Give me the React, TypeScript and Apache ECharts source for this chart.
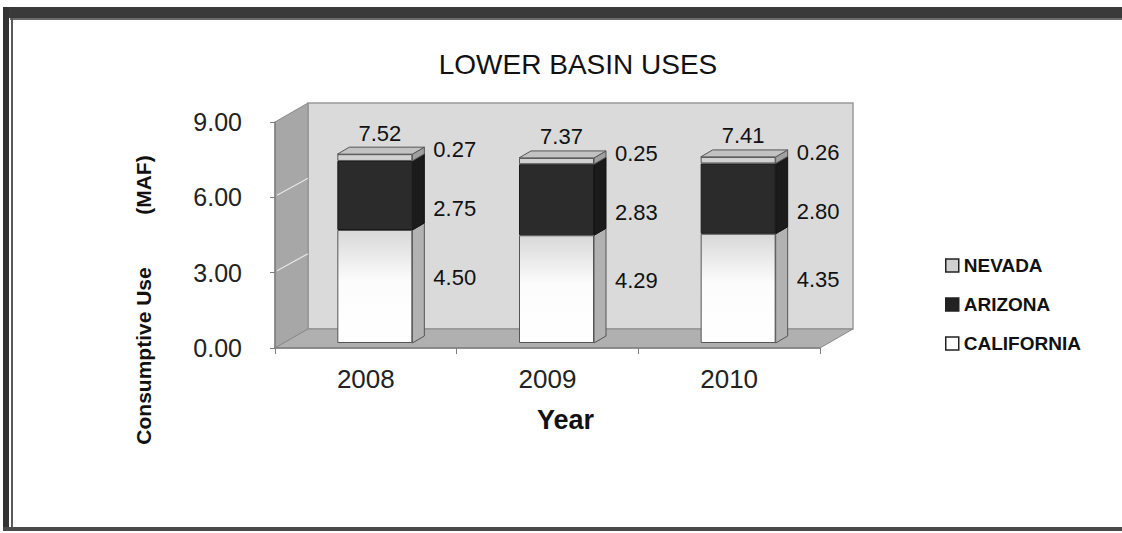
import React, { useEffect, useRef } from "react";
import * as echarts from "echarts";

const categories = ["2008", "2009", "2010"];
const california = [4.5, 4.29, 4.35];
const arizona = [2.75, 2.83, 2.8];
const nevada = [0.27, 0.25, 0.26];
const totals = [7.52, 7.37, 7.41];
const seriesNames = ["CALIFORNIA", "ARIZONA", "NEVADA"];
const legendOrder = ["NEVADA", "ARIZONA", "CALIFORNIA"];
const yMin = 0;
const yMax = 9;
const yInterval = 3;

const FONT = '"Liberation Sans", Arial, sans-serif';
const BAR_W = 75;
const SIDE_DX = 12;
const SIDE_DY = -7;
const WALL_DX = 33;
const WALL_DY = -19;

const frontColors = [
  new echarts.graphic.LinearGradient(0, 0, 0, 1, [
    { offset: 0, color: "#d8d8d8" },
    { offset: 0.45, color: "#fcfcfc" },
    { offset: 1, color: "#ffffff" },
  ]),
  "#2b2b2b",
  "#d2d2d2",
];
const sideColors = ["#b2b2b2", "#1b1b1b", "#a0a0a0"];
const legendColors: Record<string, string> = {
  NEVADA: "#d0d0d0",
  ARIZONA: "#222222",
  CALIFORNIA: "#ffffff",
};
const labelOffsets = [[0, -9], [0, 13], [0, -8]];

export default function App() {
  const ref = useRef<HTMLDivElement>(null);

  useEffect(() => {
    if (!ref.current) return;
    const chart = echarts.init(ref.current, null, { renderer: "svg" });
    const stacks = [california, arizona, nevada];

    const segData: number[][] = [];
    categories.forEach((_, i) => {
      let lo = 0;
      stacks.forEach((arr, s) => {
        const hi = lo + arr[i];
        segData.push([i, lo, hi, s]);
        lo = hi;
      });
    });

    const barSeries = stacks.map((arr, s) => ({
      name: seriesNames[s],
      type: "bar",
      stack: "lb",
      xAxisIndex: 1,
      yAxisIndex: 1,
      barWidth: BAR_W,
      z: 3,
      data: arr,
      itemStyle: {
        color: frontColors[s],
        borderColor: s === 1 ? "#1a1a1a" : "#555555",
        borderWidth: 1,
      },
      label: {
        show: true,
        position: "right",
        distance: 21,
        offset: labelOffsets[s],
        fontSize: 22,
        fontFamily: FONT,
        color: "#111111",
        formatter: (p: any) => Number(p.value).toFixed(2),
      },
      emphasis: { disabled: true },
    }));

    const option: any = {
      animation: false,
      backgroundColor: "#ffffff",
      title: {
        text: "LOWER BASIN USES",
        left: 573,
        textAlign: "center",
        top: 45,
        textStyle: { fontSize: 28, fontWeight: "normal", color: "#111111", fontFamily: FONT },
      },
      legend: {
        orient: "vertical",
        left: 940,
        top: 251,
        itemGap: 20,
        itemWidth: 13,
        itemHeight: 13,
        icon: "rect",
        selectedMode: false,
        data: legendOrder.map((n) => ({
          name: n,
          itemStyle: { color: legendColors[n], borderColor: "#222222", borderWidth: 1.5 },
        })),
        textStyle: { fontSize: 19, fontWeight: "bold", color: "#111111", fontFamily: FONT },
      },
      grid: [
        { left: 275, top: 122, width: 545, height: 226, containLabel: false },
        { left: 284, top: 117, width: 545, height: 226, containLabel: false },
      ],
      xAxis: [
        {
          type: "category",
          gridIndex: 0,
          data: categories,
          z: 2,
          axisLine: { show: true, lineStyle: { color: "#7f7f7f", width: 1.5 } },
          axisTick: { show: true, length: 6, lineStyle: { color: "#7f7f7f" } },
          axisLabel: { fontSize: 26, margin: 18, color: "#222222", fontFamily: FONT },
          name: "Year",
          nameLocation: "middle",
          nameGap: 58,
          nameTextStyle: {
            fontSize: 27,
            fontWeight: "bold",
            color: "#111111",
            fontFamily: FONT,
            padding: [0, 0, 0, 36],
          },
        },
        { type: "category", gridIndex: 1, data: categories, show: false },
      ],
      yAxis: [
        {
          type: "value",
          gridIndex: 0,
          min: yMin,
          max: yMax,
          interval: yInterval,
          z: 2,
          axisLine: { show: true, lineStyle: { color: "#7f7f7f", width: 1.5 } },
          axisTick: { show: true, length: 5, lineStyle: { color: "#7f7f7f" } },
          splitLine: { show: false },
          axisLabel: {
            fontSize: 25,
            margin: 33,
            color: "#222222",
            fontFamily: FONT,
            formatter: (v: number) => v.toFixed(2),
          },
        },
        { type: "value", gridIndex: 1, min: yMin, max: yMax, interval: yInterval, show: false },
      ],
      graphic: [
        { type: "rect", shape: { x: 3, y: 7, width: 1119, height: 11 }, style: { fill: "#3a3a3a" }, silent: true },
        { type: "rect", shape: { x: 10, y: 18, width: 1112, height: 2 }, style: { fill: "#6a6a6a" }, silent: true },
        { type: "rect", shape: { x: 3, y: 7, width: 6, height: 524 }, style: { fill: "#333333" }, silent: true },
        { type: "rect", shape: { x: 11, y: 18, width: 2, height: 511 }, style: { fill: "#5a5a5a" }, silent: true },
        { type: "rect", shape: { x: 3, y: 527, width: 1119, height: 4 }, style: { fill: "#4a4a4a" }, silent: true },
        {
          type: "text",
          x: 143,
          y: 300,
          rotation: Math.PI / 2,
          silent: true,
          style: {
            text: "Consumptive Use         (MAF)",
            fontSize: 21,
            fontWeight: "bold",
            fontFamily: FONT,
            fill: "#111111",
            align: "center",
            verticalAlign: "middle",
          },
        },
      ],
      series: [
        {
          type: "custom",
          name: "walls",
          xAxisIndex: 0,
          yAxisIndex: 0,
          z: 1,
          silent: true,
          clip: false,
          data: [[0, 0]],
          encode: { x: 0, y: 1 },
          renderItem: (params: any, api: any) => {
            const band = api.size([1, 0])[0];
            const c0 = api.coord([0, yMin]);
            const xL = c0[0] - band / 2;
            const xR = xL + band * categories.length;
            const yB = c0[1];
            const yT = api.coord([0, yMax])[1];
            const children: any[] = [
              {
                type: "polygon",
                shape: { points: [[xL + WALL_DX, yT + WALL_DY], [xR + WALL_DX, yT + WALL_DY], [xR + WALL_DX, yB + WALL_DY], [xL + WALL_DX, yB + WALL_DY]] },
                style: { fill: "#dadada", stroke: "#9a9a9a", lineWidth: 1.5 },
              },
              {
                type: "polygon",
                shape: { points: [[xL, yB], [xL, yT], [xL + WALL_DX, yT + WALL_DY], [xL + WALL_DX, yB + WALL_DY]] },
                style: { fill: "#a7a7a7", stroke: "#8a8a8a", lineWidth: 1 },
              },
              {
                type: "polygon",
                shape: { points: [[xL, yB], [xR, yB], [xR + WALL_DX, yB + WALL_DY], [xL + WALL_DX, yB + WALL_DY]] },
                style: { fill: "#b0b0b0", stroke: "#8a8a8a", lineWidth: 1 },
              },
            ];
            for (let v = yMin + yInterval; v < yMax; v += yInterval) {
              const yy = api.coord([0, v])[1];
              children.push({
                type: "line",
                shape: { x1: xL + 2, y1: yy - 2, x2: xL + WALL_DX, y2: yy + WALL_DY },
                style: { stroke: "#e6e6e6", lineWidth: 1.2 },
              });
            }
            return { type: "group", children };
          },
        },
        ...barSeries,
        {
          type: "custom",
          name: "faces",
          xAxisIndex: 1,
          yAxisIndex: 1,
          z: 3,
          silent: true,
          clip: false,
          data: segData,
          encode: { x: 0, y: [1, 2] },
          renderItem: (params: any, api: any) => {
            const cat = api.value(0);
            const s = api.value(3);
            const top = api.coord([cat, api.value(2)]);
            const bot = api.coord([cat, api.value(1)]);
            const xl = top[0] - BAR_W / 2;
            const xr = top[0] + BAR_W / 2;
            const children: any[] = [
              {
                type: "polygon",
                shape: { points: [[xr, bot[1]], [xr + SIDE_DX, bot[1] + SIDE_DY], [xr + SIDE_DX, top[1] + SIDE_DY], [xr, top[1]]] },
                style: { fill: sideColors[s], stroke: s === 1 ? "#111111" : "#555555", lineWidth: 1 },
              },
            ];
            if (s === stacks.length - 1) {
              children.push({
                type: "polygon",
                shape: { points: [[xl, top[1]], [xr, top[1]], [xr + SIDE_DX, top[1] + SIDE_DY], [xl + SIDE_DX, top[1] + SIDE_DY]] },
                style: { fill: "#c2c2c2", stroke: "#555555", lineWidth: 1 },
              });
              children.push({
                type: "line",
                shape: { x1: xl + 1, y1: top[1] + 3, x2: xr - 1, y2: top[1] + 3 },
                style: { stroke: "#ffffff", lineWidth: 2 },
              });
            }
            return { type: "group", children };
          },
        },
        {
          type: "scatter",
          name: "totals",
          xAxisIndex: 1,
          yAxisIndex: 1,
          z: 4,
          symbolSize: 0,
          itemStyle: { color: "#111111", opacity: 1 },
          silent: true,
          data: totals,
          label: {
            show: true,
            position: "top",
            distance: 10,
            offset: [5, 0],
            fontSize: 22,
            fontFamily: FONT,
            color: "#111111",
            opacity: 1,
            formatter: (p: any) => Number(p.value).toFixed(2),
          },
          emphasis: { disabled: true },
        },
      ],
    };

    chart.setOption(option);
    return () => chart.dispose();
  }, []);

  return (
    <div
      ref={ref}
      style={{ position: "absolute", left: 0, top: 0, width: 1122, height: 533, background: "#ffffff" }}
    />
  );
}
